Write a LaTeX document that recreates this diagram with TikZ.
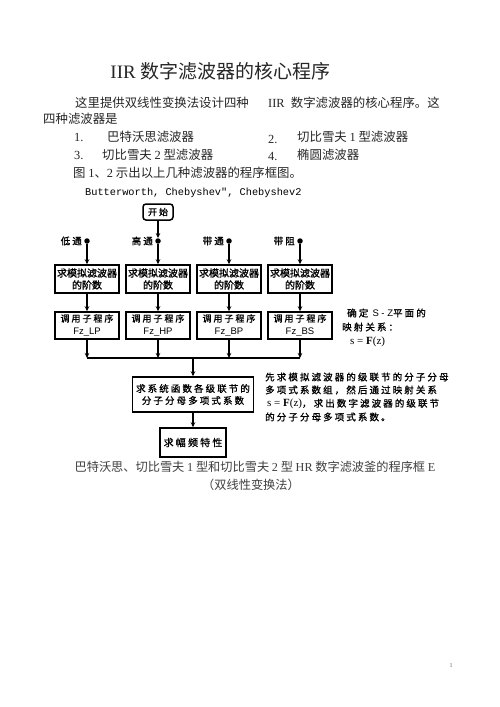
\documentclass[tikz,border=0pt]{standalone}
\usepackage{fontspec}
\setmainfont{Liberation Serif}
\setsansfont{Liberation Sans}
\setmonofont{Liberation Mono}
\newfontfamily\cjk{Noto Sans CJK SC}
\newfontfamily\cjkb[FakeBold=1.3]{Noto Sans CJK SC}
\newfontfamily\cjks[LetterSpace=22,FakeBold=1.1]{Noto Sans CJK SC}
\usetikzlibrary{arrows.meta}
\begin{document}
\begin{tikzpicture}[x=1pt,y=-1pt,
  body/.style={inner sep=0pt,anchor=west,text=black!85,font=\fontsize{12.4}{14}\selectfont\cjk},
  note/.style={inner sep=0pt,anchor=west,text=black,font=\fontsize{9.5}{12}\selectfont\cjks},
  captxt/.style={inner sep=0pt,text=black!75,font=\fontsize{12.2}{14}\selectfont\cjk},
  box/.style={draw,line width=1.5pt,minimum width=64pt,inner sep=1pt,align=center},
  ordbox/.style={box,minimum height=28pt,font=\fontsize{10}{12}\selectfont\cjkb},
  fzbox/.style={box,minimum height=27pt,font=\fontsize{9}{13}\selectfont},
  dotn/.style={circle,fill,inner sep=0pt,minimum size=5.5pt},
  lbl/.style={inner sep=0pt,anchor=east,font=\fontsize{9.5}{11}\selectfont\cjks},
  arr/.style={line width=1.2pt,-{Stealth[length=5pt,width=4.5pt]}},
  ln/.style={line width=1.2pt}
]
\useasboundingbox (0,0) rectangle (500,707);
\fill[white] (0,0) rectangle (500,707);

% title
\node[inner sep=0pt,text=black!85] (title) at (220.5,71)
  {\fontsize{19}{22}\selectfont IIR \cjk 数字滤波器的核心程序};

% paragraph
\node[body] (p1a) at (75,103) {这里提供双线性变换法设计四种};
\node[body] (p1b) at (268,103) {{\rmfamily IIR\ \ }数字滤波器的核心程序。这};
\node[body] (p2) at (43,119) {四种滤波器是};
\node[body] (n1) at (74,137) {\rmfamily 1.};
\node[body] (t1) at (107,137) {巴特沃思滤波器};
\node[body] (n2) at (268,139) {\rmfamily 2.};
\node[body] (t2) at (297,137) {切比雪夫 {\rmfamily 1} 型滤波器};
\node[body] (n3) at (74,155) {\rmfamily 3.};
\node[body] (t3) at (102,155) {切比雪夫 {\rmfamily 2} 型滤波器};
\node[body] (n4) at (268,157) {\rmfamily 4.};
\node[body] (t4) at (297,155) {椭圆滤波器};
\node[body] (l5) at (73,173) {图 {\rmfamily 1}、{\rmfamily 2} 示出以上几种滤波器的程序框图。};
\node[body,text=black,font=\fontsize{10.3}{12}\selectfont\ttfamily] (l6) at (85,193) {Butterworth, Chebyshev", Chebyshev2};

% flowchart
\node[draw,line width=1.5pt,rounded corners=3pt,minimum width=30pt,minimum height=16pt,inner sep=1pt,
  font=\fontsize{9}{11}\selectfont\cjks] (start) at (158,212) {开始};

\node[dotn] (d1) at (87,241) {};
\node[dotn] (d2) at (158,241) {};
\node[dotn] (d3) at (229,241) {};
\node[dotn] (d4) at (300,241) {};
\node[lbl] (L1) at (82,241) {低通};
\node[lbl] (L2) at (153,241) {高通};
\node[lbl] (L3) at (224,241) {带通};
\node[lbl] (L4) at (295,241) {带阻};

\node[ordbox] (o1) at (87,279) {求模拟滤波器\\的阶数};
\node[ordbox] (o2) at (158,279) {求模拟滤波器\\的阶数};
\node[ordbox] (o3) at (229,279) {求模拟滤波器\\的阶数};
\node[ordbox] (o4) at (300,279) {求模拟滤波器\\的阶数};

\node[fzbox] (f1) at (87,325.5) {{\cjks 调用子程序}\\{\sffamily\fontsize{9.5}{13}\selectfont Fz\_LP}};
\node[fzbox] (f2) at (158,325.5) {{\cjks 调用子程序}\\{\sffamily\fontsize{9.5}{13}\selectfont Fz\_HP}};
\node[fzbox] (f3) at (229,325.5) {{\cjks 调用子程序}\\{\sffamily\fontsize{9.5}{13}\selectfont Fz\_BP}};
\node[fzbox] (f4) at (300,325.5) {{\cjks 调用子程序}\\{\sffamily\fontsize{9.5}{13}\selectfont Fz\_BS}};

\coordinate (bL) at (87,358);
\coordinate (bR) at (300,358);
\coordinate (bM) at (193,358);

\node[box,minimum width=121pt,minimum height=35pt,font=\fontsize{9.5}{12}\selectfont\cjks] (sys) at (193,394.5)
  {求系统函数各级联节的\\分子分母多项式系数};
\node[box,minimum width=66pt,minimum height=29pt,font=\fontsize{10}{12}\selectfont\cjks] (frq) at (193,442.5)
  {求幅频特性};

\draw[arr] (start) -- (d2);
\foreach \i in {1,2,3,4}{
  \draw[arr] (d\i) -- (o\i);
  \draw[arr] (o\i) -- (f\i);
  \draw[arr] (f\i.south) -- (f\i.south |- bL);
}
\draw[ln] (bL) -- (bR);
\draw[arr] (bM) -- (sys);
\draw[arr] (sys) -- (frq);

% right notes
\node[note] (r1) at (347,313) {确定 {\sffamily S - Z}平面的};
\node[note] (r2) at (342,327) {映射关系：};
\node[note,font=\fontsize{11}{12}\selectfont\rmfamily] (r3) at (350,342) {s = \textbf{F}(z)};

\node[note] (q1) at (265,377) {先求模拟滤波器的级联节的分子分母};
\node[note] (q2) at (265,390) {多项式系数组，然后通过映射关系};
\node[note] (q3) at (267,404) {{\rmfamily\fontsize{11}{12}\selectfont s = \textbf{F}(z)}，求出数字滤波器的级联节};
\node[note] (q4) at (265,417) {的分子分母多项式系数。};

% caption
\node[captxt] (c1) at (255,467) {巴特沃思、切比雪夫 {\rmfamily 1} 型和切比雪夫 {\rmfamily 2} 型 {\rmfamily HR} 数字滤波釜的程序框 {\rmfamily E}};
\node[captxt] (c2) at (251,485) {（双线性变换法）};

\node[inner sep=0pt,text=black!60,font=\fontsize{6}{7}\selectfont] (pg) at (451,666) {1};
\end{tikzpicture}
\end{document}
